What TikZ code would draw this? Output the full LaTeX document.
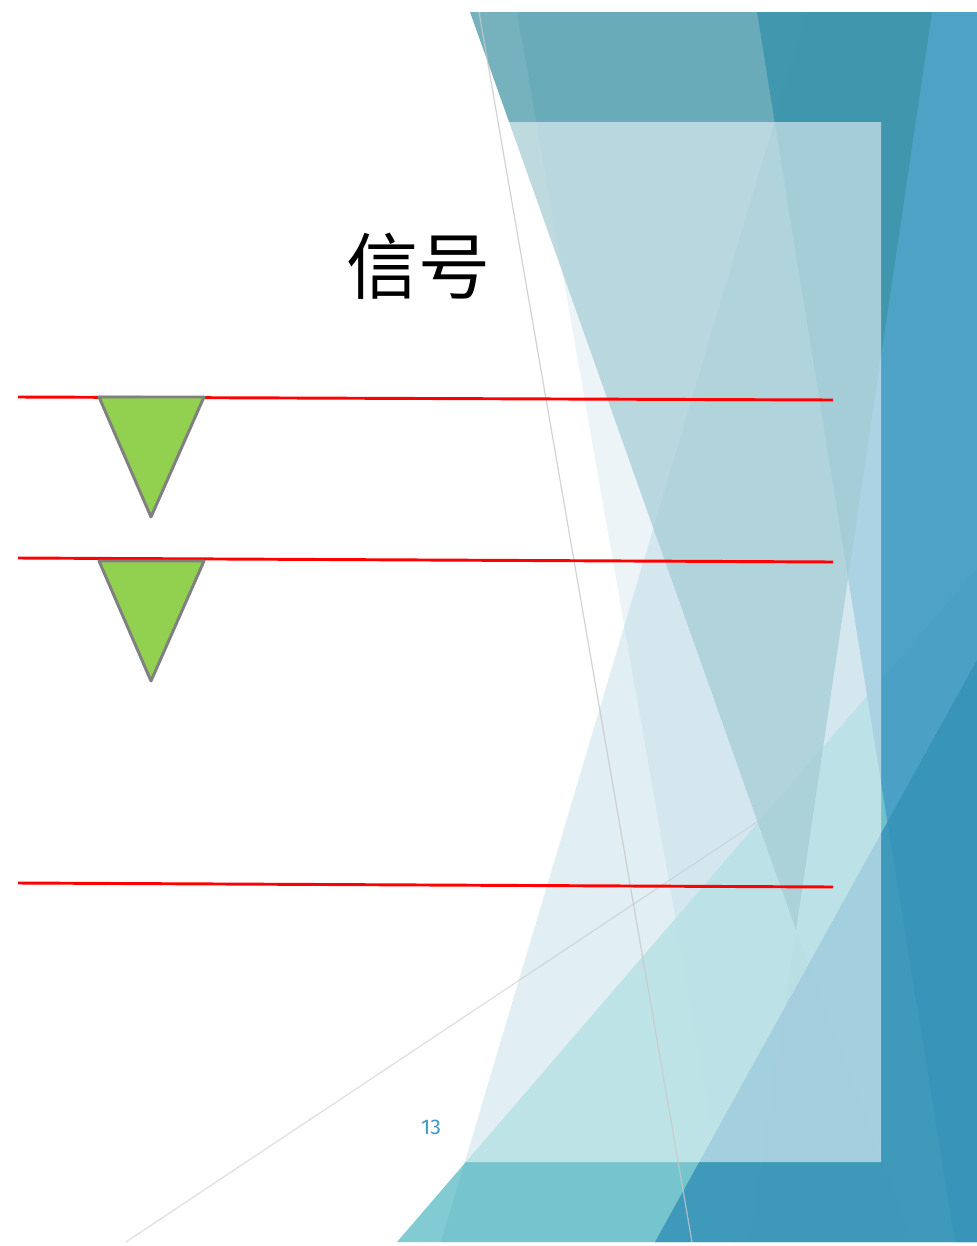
\documentclass[tikz,border=0pt]{standalone}
\usepackage{fontspec}
\newfontfamily\cjk{Noto Sans CJK SC}
\newfontfamily\numfont{Fira Sans}
\definecolor{cSa}{RGB}{35,130,180}
\definecolor{cSb}{RGB}{64,151,182}
\definecolor{cTeal}{RGB}{100,190,200}
\definecolor{cBlue}{RGB}{74,160,197}
\definecolor{cTop}{RGB}{59,146,162}
\definecolor{cDeep}{RGB}{54,146,184}
\definecolor{cGray}{RGB}{200,200,200}
\definecolor{cRed}{RGB}{255,0,0}
\definecolor{cGreen}{RGB}{146,208,80}
\definecolor{cEdge}{RGB}{128,128,128}
\definecolor{cNum}{RGB}{62,154,192}
\tikzset{
  facet/.style={draw=none},
  thinline/.style={draw=cGray, line width=0.9pt},
  redline/.style={draw=cRed, line width=2.2pt},
  marker/.style={fill=cGreen, draw=cEdge, line width=2.2pt, line join=round},
}
\begin{document}
\begin{tikzpicture}[x=0.75pt,y=-0.75pt]
\useasboundingbox (0,0) rectangle (977,1246);
\fill[white] (0,0) rectangle (977,1246);
\begin{scope}
\clip (0,12) rectangle (977,1242);
% pale facets
\fill[facet, cSa, opacity=0.18] (517,12) -- (732,1242) -- (977,1242) -- (977,12) -- cycle;
\fill[facet, cSb, opacity=0.33] (807,12) -- (441,1242) -- (977,1242) -- (977,12) -- cycle;
% teal bottom triangle
\fill[facet, cTeal, opacity=0.8] (397,1242) -- (977,568) -- (977,1242) -- cycle;
% blue right facet
\fill[facet, cBlue, opacity=0.95] (757,12) -- (977,12) -- (977,1242) -- (955,1242) -- cycle;
% teal top inverted triangle
\fill[facet, cTop, opacity=0.7] (470,12) -- (932,12) -- (796,930) -- cycle;
\fill[facet, cTop, opacity=0.08] (796,930) -- (750,1242) -- (912,1242) -- cycle;
% deep blue bottom right triangle
\fill[facet, cDeep, opacity=0.85] (977,660) -- (977,1242) -- (655,1242) -- cycle;
% content panel (its left part lies over white or pale areas)
\fill[facet, white, opacity=0.53] (300,122) -- (509,122) -- (881,122) -- (881,1162) -- (300,1162) -- cycle;
% thin lines
\draw[thinline, opacity=0.8] (479,12) -- (692,1242);
\draw[thinline, opacity=0.6] (126,1242) -- (760,820);
\end{scope}

\node[font=\cjk\fontsize{54}{60}\selectfont, inner sep=0pt] (title) at (418,266) {信号};

\coordinate (r1a) at (18,397);  \coordinate (r1b) at (833,400);
\coordinate (r2a) at (18,558);  \coordinate (r2b) at (833,562);
\coordinate (r3a) at (18,883);  \coordinate (r3b) at (833,887);
\draw[redline] (r1a) -- (r1b);
\draw[redline] (r2a) -- (r2b);
\draw[redline] (r3a) -- (r3b);

\draw[marker] (99,397) -- (204,397) -- (151,517) -- cycle;
\draw[marker] (99,561) -- (204,561) -- (151,681) -- cycle;

\node[font=\numfont\fontsize{16}{18}\selectfont, text=cNum, inner sep=0pt] (pagenum) at (431,1127) {13};
\end{tikzpicture}
\end{document}
